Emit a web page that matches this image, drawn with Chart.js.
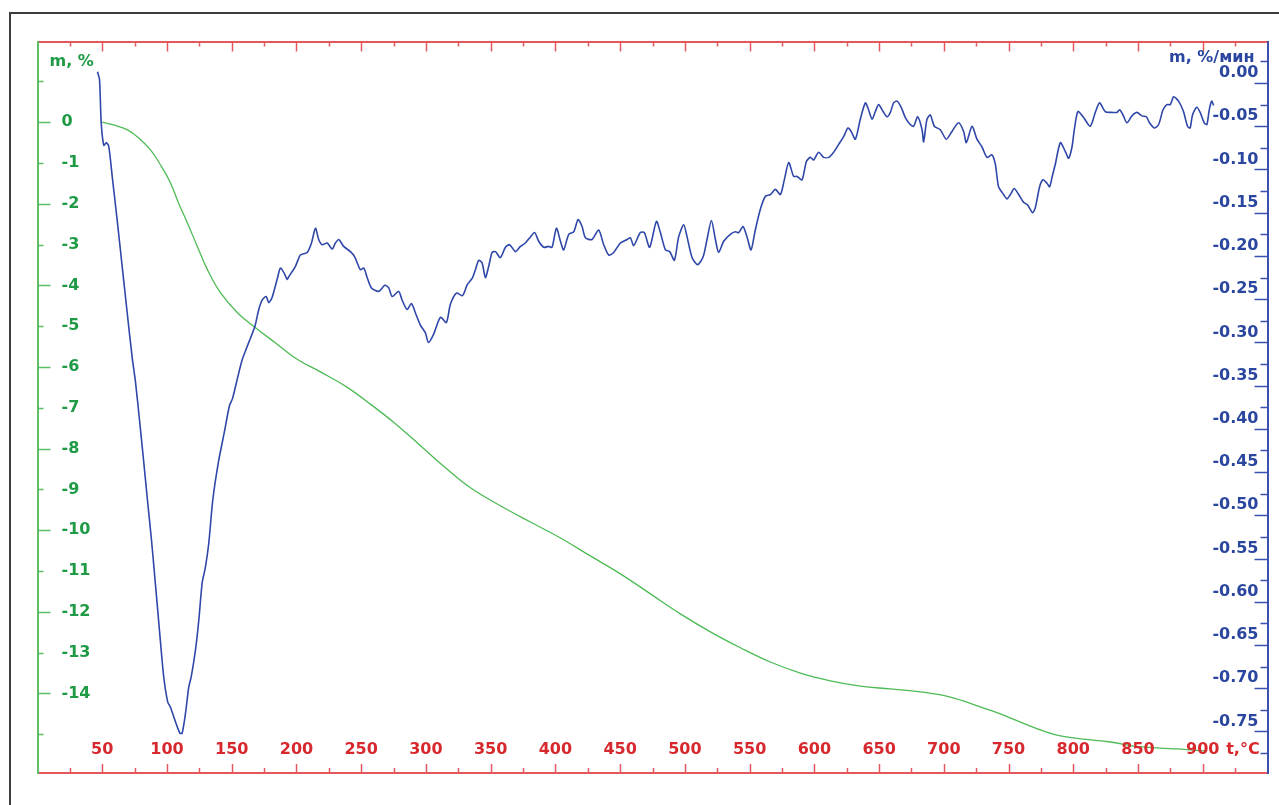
<!DOCTYPE html>
<html>
<head>
<meta charset="utf-8">
<script src="https://cdn.jsdelivr.net/npm/chart.js@4"></script>
<style>
  html, body { margin: 0; padding: 0; background: #fff; width: 1279px; height: 805px; overflow: hidden; }
  #frame { position: absolute; left: 9px; top: 12px; width: 1300px; height: 830px; border: 2px solid #3d3d3d; }
  #wrap { position: absolute; left: 0; top: 0; width: 1279px; height: 805px; }
</style>
</head>
<body>
<div id="frame"></div>
<div id="wrap"><canvas id="c" width="1279" height="805"></canvas></div>
<script>
// DTG curve (blue, right axis): temperature, °C
const tBlue = [
  46.3,47.9,49.2,51.2,53.3,55.1,57.7,61.5,65.4,69.3,
  73.1,75.7,78.8,81.9,84.9,88.0,91.1,94.2,97.5,100.6,102.7,106.6,
  110.0,111.7,114.3,116.8,118.7,122.0,124.6,127.2,129.7,132.3,
  135.4,139.8,144.4,148.3,150.6,154.2,158.1,163.2,167.8,170.9,
  173.5,176.6,178.6,181.2,185.1,187.6,190.2,192.8,194.1,199.2,
  203.1,208.3,211.6,214.7,217.2,219.8,223.7,227.6,230.1,232.7,
  236.5,241.7,245.0,249.4,252.0,254.6,257.9,263.6,268.2,271.3,
  273.9,279.0,281.6,285.5,288.8,291.9,295.7,299.6,301.9,305.8,
  311.2,315.8,318.9,323.6,328.2,332.0,335.7,338.2,340.8,343.4,
  345.9,348.5,351.1,353.7,357.5,361.4,364.7,369.1,373.0,376.8,
  380.7,384.0,387.1,391.0,394.8,397.4,400.8,403.9,406.4,410.3,
  414.2,417.5,420.6,423.2,428.3,433.4,437.3,441.2,445.0,450.2,
  455.4,457.9,460.5,465.6,468.7,472.8,478.0,481.1,485.0,488.3,
  491.9,495.2,499.1,501.7,505.6,509.9,514.1,517.1,520.5,523.6,
  526.1,530.0,535.1,539.0,541.6,544.9,548.0,551.1,554.4,558.3,
  562.2,566.0,569.9,573.8,576.8,580.2,584.0,586.6,590.5,593.8,
  596.9,599.5,603.3,607.2,611.1,614.9,618.8,622.6,626.0,628.4,
  631.7,635.5,639.4,641.9,644.6,647.1,649.7,653.1,656.1,658.7,
  661.2,663.9,667.0,670.3,674.1,676.7,679.8,683.2,684.4,687.0,
  689.6,692.7,697.3,701.9,706.3,711.4,715.3,717.4,721.8,725.6,
  729.5,733.4,737.2,739.8,742.3,746.2,748.8,751.4,754.4,757.8,
  761.6,764.7,768.6,770.7,774.0,776.6,779.7,781.7,783.6,786.1,
  790.0,793.8,796.4,799.0,800.8,803.6,808.0,813.1,817.0,820.3,
  824.7,829.9,833.7,835.8,838.4,841.5,845.3,849.2,853.0,856.4,
  858.9,862.5,865.9,869.3,872.3,874.9,877.5,881.3,885.1,888.2,
  890.2,892.1,895.4,898.0,901.1,903.2,905.0,906.9,908.4
];
// DTG values, %/min
const dtgBlue = [
  0.013,0.004,-0.046,-0.072,-0.069,-0.074,-0.108,-0.158,-0.212,-0.266,
  -0.317,-0.346,-0.390,-0.436,-0.482,-0.528,-0.580,-0.633,-0.687,-0.716,-0.722,-0.739,
  -0.752,-0.752,-0.729,-0.699,-0.687,-0.656,-0.621,-0.578,-0.560,-0.532,
  -0.482,-0.438,-0.403,-0.373,-0.365,-0.343,-0.320,-0.300,-0.282,-0.262,
  -0.251,-0.247,-0.254,-0.248,-0.227,-0.214,-0.219,-0.227,-0.224,-0.212,
  -0.199,-0.196,-0.185,-0.168,-0.181,-0.187,-0.185,-0.192,-0.185,-0.181,
  -0.189,-0.195,-0.201,-0.216,-0.214,-0.225,-0.237,-0.241,-0.234,-0.237,
  -0.247,-0.241,-0.251,-0.262,-0.255,-0.266,-0.280,-0.289,-0.300,-0.291,
  -0.271,-0.277,-0.256,-0.243,-0.246,-0.233,-0.226,-0.216,-0.205,-0.208,
  -0.225,-0.212,-0.196,-0.195,-0.202,-0.190,-0.187,-0.195,-0.189,-0.185,
  -0.178,-0.173,-0.183,-0.190,-0.189,-0.190,-0.168,-0.183,-0.193,-0.175,
  -0.172,-0.158,-0.166,-0.179,-0.181,-0.170,-0.187,-0.199,-0.196,-0.185,
  -0.181,-0.179,-0.188,-0.173,-0.173,-0.190,-0.160,-0.173,-0.193,-0.195,
  -0.205,-0.178,-0.164,-0.178,-0.202,-0.210,-0.201,-0.181,-0.159,-0.181,
  -0.196,-0.183,-0.175,-0.172,-0.173,-0.166,-0.178,-0.193,-0.170,-0.146,
  -0.131,-0.129,-0.123,-0.129,-0.112,-0.092,-0.108,-0.108,-0.112,-0.091,
  -0.086,-0.089,-0.080,-0.086,-0.086,-0.080,-0.071,-0.062,-0.052,-0.056,
  -0.065,-0.042,-0.023,-0.031,-0.042,-0.033,-0.025,-0.033,-0.039,-0.034,
  -0.023,-0.021,-0.028,-0.040,-0.048,-0.050,-0.039,-0.054,-0.068,-0.042,
  -0.037,-0.050,-0.054,-0.065,-0.056,-0.046,-0.056,-0.069,-0.050,-0.065,
  -0.074,-0.086,-0.083,-0.094,-0.120,-0.129,-0.134,-0.129,-0.122,-0.129,
  -0.138,-0.141,-0.150,-0.144,-0.120,-0.112,-0.116,-0.120,-0.109,-0.094,
  -0.069,-0.079,-0.087,-0.074,-0.054,-0.033,-0.040,-0.050,-0.034,-0.023,
  -0.033,-0.034,-0.034,-0.031,-0.037,-0.046,-0.038,-0.034,-0.038,-0.039,
  -0.046,-0.052,-0.048,-0.031,-0.025,-0.025,-0.016,-0.021,-0.033,-0.050,
  -0.052,-0.037,-0.028,-0.034,-0.046,-0.048,-0.031,-0.021,-0.026
];

// TG curve (green, left axis)
const tGreen = [
  50,58.7,69.5,78.0,87.3,95.0,102.7,108.9,115.8,123.6,
  131.3,141.3,154.4,167.6,183.8,201.5,218.5,237.8,257.1,276.4,
  295.8,315.1,334.4,357.5,380.7,403.9,427.0,450.2,473.4,496.5,
  519.7,542.9,566.0,589.2,612.4,635.5,658.7,681.9,705.0,728.2,
  743.6,764.5,776.8,790.0,807.7,828.6,846.3,867.2,880.3,892.7,
  902.0
];
const tgGreen = [
  0,-0.07,-0.19,-0.38,-0.68,-1.05,-1.49,-1.98,-2.47,-3.06,
  -3.62,-4.18,-4.67,-5.02,-5.41,-5.83,-6.12,-6.47,-6.91,-7.39,
  -7.93,-8.47,-8.96,-9.40,-9.80,-10.19,-10.63,-11.07,-11.56,-12.05,
  -12.49,-12.88,-13.23,-13.50,-13.69,-13.82,-13.89,-13.96,-14.09,-14.33,
  -14.50,-14.77,-14.92,-15.04,-15.12,-15.19,-15.29,-15.34,-15.36,-15.39,
  -15.41
];

// tick labels
const xTickLabels = [50,100,150,200,250,300,350,400,450,500,550,600,650,700,750,800,850,900];
const leftTickLabels = [0,-1,-2,-3,-4,-5,-6,-7,-8,-9,-10,-11,-12,-13,-14];
const rightTickLabels = ['0.00','-0.05','-0.10','-0.15','-0.20','-0.25','-0.30','-0.35','-0.40','-0.45','-0.50','-0.55','-0.60','-0.65','-0.70','-0.75'];

const COL = {
  red: '#d7282e', redLine: '#e4585b',
  green: '#1f9a45', greenLine: '#5cbf64',
  blue: '#2a469f', blueLine: '#3a52ad'
};
const FONT = 'bold 16px "DejaVu Sans", sans-serif';

// axis ticks & labels drawn inside the plot, like the instrument printout
const axisDecor = {
  id: 'axisDecor',
  afterDraw(chart) {
    const { ctx, chartArea: a } = chart;
    const { x, y, y2 } = chart.scales;
    ctx.save();
    ctx.lineWidth = 1.5;

    // bottom + top ticks (every 25 °C)
    ctx.strokeStyle = COL.redLine;
    for (let v = 25; v < 950; v += 25) {
      const px = Math.round(x.getPixelForValue(v)) + 0.5;
      const major = v % 50 === 0;
      ctx.beginPath();
      ctx.moveTo(px, a.bottom); ctx.lineTo(px, a.bottom - (major ? 9 : 5));
      ctx.moveTo(px, a.top); ctx.lineTo(px, a.top + (major ? 10 : 5));
      ctx.stroke();
    }
    // left ticks (every 1 %)
    ctx.strokeStyle = COL.greenLine;
    for (let v = 1; v >= -15; v--) {
      const py = Math.round(y.getPixelForValue(v)) + 0.5;
      ctx.beginPath();
      ctx.moveTo(a.left, py); ctx.lineTo(a.left + (v % 2 === 0 ? 13 : 6), py);
      ctx.stroke();
    }
    // right ticks (every 0.025 %/min)
    ctx.strokeStyle = COL.blueLine;
    for (let i = 1; i >= -31; i--) {
      const py = Math.round(y2.getPixelForValue(i * 0.025)) + 0.5;
      ctx.beginPath();
      ctx.moveTo(a.right, py); ctx.lineTo(a.right - (i % 2 === 0 ? 13 : 7), py);
      ctx.stroke();
    }

    ctx.font = FONT;
    ctx.textBaseline = 'middle';

    // x labels
    ctx.fillStyle = COL.red;
    ctx.textAlign = 'center';
    xTickLabels.forEach(v => ctx.fillText(String(v), x.getPixelForValue(v), a.bottom - 23));
    ctx.fillText('t,°C', x.getPixelForValue(931), a.bottom - 23);

    // left labels
    ctx.fillStyle = COL.green;
    ctx.textAlign = 'left';
    leftTickLabels.forEach(v => ctx.fillText(String(v), a.left + 24, y.getPixelForValue(v)));
    ctx.fillText('m, %', a.left + 12, y.getPixelForValue(1) - 19);

    // right labels (sit just above their tick)
    ctx.fillStyle = COL.blue;
    ctx.textAlign = 'right';
    rightTickLabels.forEach(s => ctx.fillText(s, a.right - 9, y2.getPixelForValue(parseFloat(s)) - 10));
    ctx.fillText('m, %/мин', a.right - 13, y2.getPixelForValue(0.025) - 4);

    ctx.restore();
  }
};

const hiddenAxis = (pos, color, min, max) => ({
  type: 'linear', position: pos, min, max,
  grid: { display: false, drawTicks: false, tickLength: 0 },
  ticks: { display: false },
  border: { display: true, color, width: 2 }
});

new Chart(document.getElementById('c'), {
  type: 'scatter',
  data: {
    datasets: [
      {
        label: 'm, %/мин',
        data: tBlue.map((t, i) => ({ x: t, y: dtgBlue[i] })),
        yAxisID: 'y2',
        showLine: true,
        borderColor: '#2f47a8',
        borderWidth: 1.6,
        pointRadius: 0,
        tension: 0.25
      },
      {
        label: 'm, %',
        data: tGreen.map((t, i) => ({ x: t, y: tgGreen[i] })),
        yAxisID: 'y',
        showLine: true,
        borderColor: '#4dbb55',
        borderWidth: 1.3,
        pointRadius: 0,
        tension: 0.4
      }
    ]
  },
  options: {
    responsive: false,
    devicePixelRatio: 1,
    animation: false,
    layout: { padding: { left: 37.5, right: 11.5, top: 41.5, bottom: 32 } },
    plugins: { legend: { display: false }, tooltip: { enabled: false } },
    scales: {
      x: hiddenAxis('bottom', COL.redLine, 0, 950),
      x2: hiddenAxis('top', COL.redLine, 0, 950),
      y: hiddenAxis('left', COL.greenLine, -15.95, 1.976),
      y2: hiddenAxis('right', COL.blueLine, -0.798, 0.048)
    }
  },
  plugins: [axisDecor]
});
</script>
</body>
</html>
